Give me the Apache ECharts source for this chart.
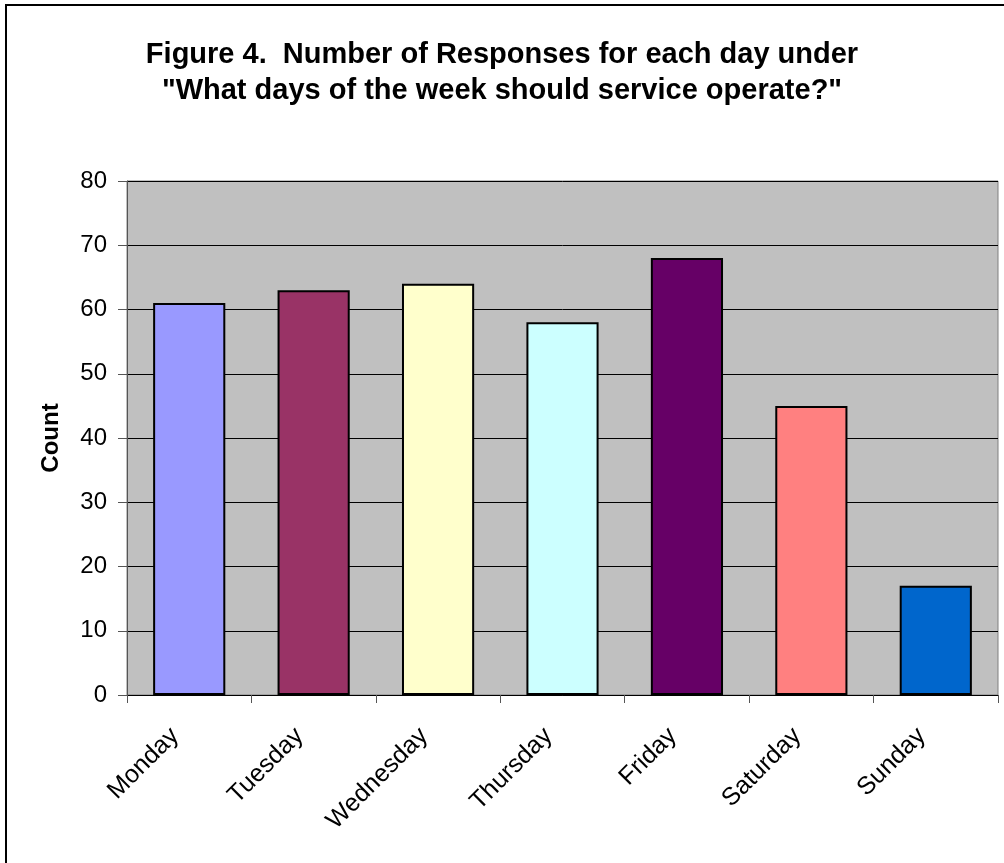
<!DOCTYPE html>
<html>
<head>
<meta charset="utf-8">
<script src="https://cdn.jsdelivr.net/npm/echarts@6/dist/echarts.min.js"></script>
<style>html,body{margin:0;padding:0;background:#fff}#c{width:1004px;height:863px}</style>
</head>
<body>
<div id="c"></div>
<script>
const categories = ["Monday","Tuesday","Wednesday","Thursday","Friday","Saturday","Sunday"];
const counts = [61, 63, 64, 58, 68, 45, 17];
const barColors = ["#9999FF","#993366","#FFFFCC","#CCFFFF","#660066","#FF8080","#0066CC"];
const titleText = "Figure 4.  Number of Responses for each day under\n\"What days of the week should service operate?\"";
const yAxisName = "Count";

const chart = echarts.init(document.getElementById('c'), null, {renderer:'canvas'});
const FONT = "'Liberation Sans', Arial, sans-serif";
chart.setOption({
  animation: false,
  backgroundColor: '#fff',
  textStyle: {fontFamily: FONT},
  title: {
    text: titleText,
    left: 'center',
    top: 32,
    textStyle: {fontFamily: FONT, fontSize: 29, fontWeight: 'bold', color: '#000', lineHeight: 36}
  },
  graphic: [{
    type: 'rect',
    shape: {x: 6, y: 5, width: 1100, height: 1000},
    style: {fill: 'none', stroke: '#000', lineWidth: 2},
    silent: true
  }],
  grid: {
    left: 127, right: 6, top: 181, bottom: 168,
    show: true, backgroundColor: '#C0C0C0', borderColor: '#808080', borderWidth: 1,
    containLabel: false
  },
  xAxis: {
    type: 'category',
    data: categories,
    boundaryGap: true,
    axisLine: {show: true, lineStyle: {color: '#000', width: 1}},
    axisTick: {show: true, length: 8, inside: false, alignWithLabel: false, lineStyle: {color: '#555'}},
    axisLabel: {rotate: 45, fontSize: 25, color: '#000', margin: 23, padding: [0, 20, 0, 0], fontFamily: FONT, interval: 0},
    splitLine: {show: false}
  },
  yAxis: {
    type: 'value',
    min: 0, max: 80, interval: 10,
    name: yAxisName,
    nameLocation: 'middle',
    nameGap: 64,
    nameRotate: 90,
    nameTextStyle: {fontSize: 24, fontWeight: 'bold', color: '#000', fontFamily: FONT},
    axisLine: {show: true, lineStyle: {color: '#555', width: 1}},
    axisTick: {show: true, length: 9, lineStyle: {color: '#555'}},
    axisLabel: {fontSize: 24, color: '#000', margin: 20, fontFamily: FONT},
    splitLine: {show: true, lineStyle: {color: '#000', width: 1}}
  },
  series: [{
    type: 'bar',
    data: counts.map((v, i) => ({value: v, itemStyle: {color: barColors[i]}})),
    barCategoryGap: '42%',
    itemStyle: {borderColor: '#000', borderWidth: 2}
  }]
});
</script>
</body>
</html>
